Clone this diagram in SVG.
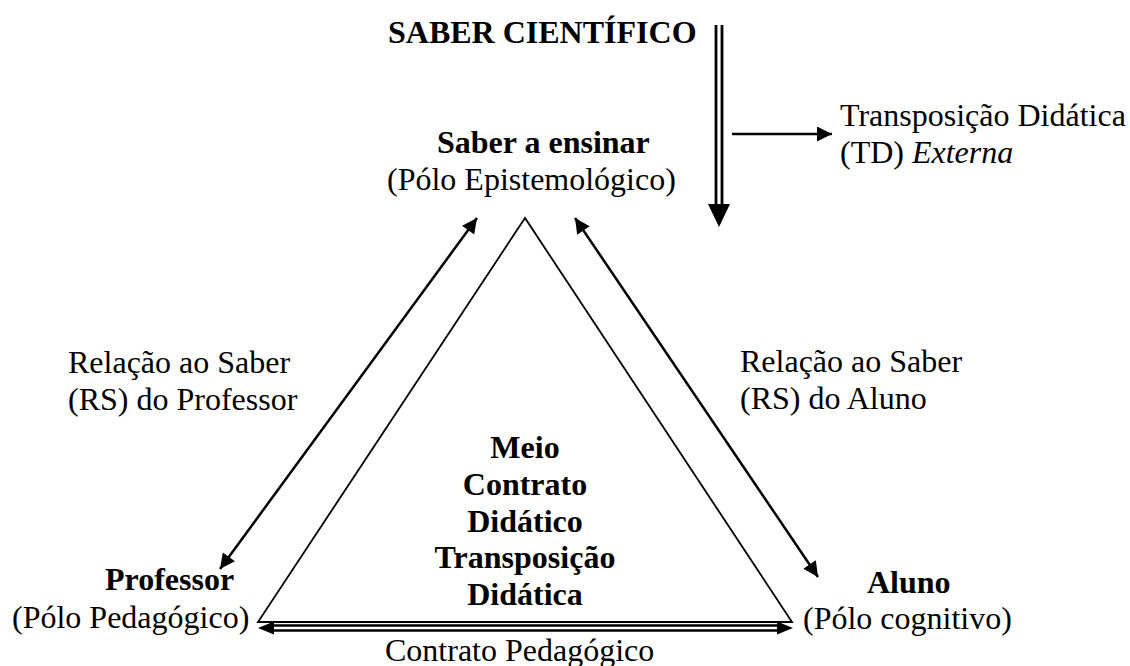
<svg xmlns="http://www.w3.org/2000/svg" width="1130" height="666" viewBox="0 0 1130 666">
<style>
text{font-family:"Liberation Serif","Times New Roman",serif;font-size:32px;fill:#000}
.b{font-weight:bold}
.c{text-anchor:middle}
.ln{stroke:#000;fill:none}
.ar{stroke:#000;stroke-width:2.5;fill:none}
.hd{fill:#000;stroke:none}
</style>
<defs>
<marker id="ah" viewBox="0 0 10 10" refX="10" refY="5" markerWidth="6.5" markerHeight="6" markerUnits="strokeWidth" orient="auto-start-reverse">
<path d="M0,0 L10,5 L0,10 Z" fill="#000"/>
</marker>
</defs>
<rect width="1130" height="666" fill="#fff"/>
<g id="connectors">
<polygon id="triangle" class="ln" stroke-width="1.8" points="525,218 258,622 792,622"/>
<line class="ar" x1="477" y1="218" x2="220" y2="569" marker-start="url(#ah)" marker-end="url(#ah)"/>
<line class="ar" x1="575" y1="218" x2="818" y2="577" marker-start="url(#ah)" marker-end="url(#ah)"/>
<line class="ar" x1="732" y1="134" x2="832" y2="134" marker-end="url(#ah)"/>
<g id="double-down">
<line class="ln" stroke-width="2.8" x1="716" y1="25" x2="716" y2="206"/>
<line class="ln" stroke-width="2.8" x1="722" y1="25" x2="722" y2="206"/>
<path class="hd" d="M708,204 L730,204 L719,227 Z"/>
</g>
<g id="double-horizontal">
<line class="ln" stroke-width="2.3" x1="268" y1="625.5" x2="783" y2="625.5"/>
<line class="ln" stroke-width="2.3" x1="268" y1="630.5" x2="783" y2="630.5"/>
<path class="hd" d="M258,628 L274,621.5 L274,634.5 Z"/>
<path class="hd" d="M793,628 L777,621.5 L777,634.5 Z"/>
</g>
</g>
<g id="saber-cientifico"><text class="b" x="388" y="43">SABER CIENTÍFICO</text></g>
<g id="saber-ensinar">
<text class="b" x="437" y="153">Saber a ensinar</text>
<text x="387" y="190">(Pólo Epistemológico)</text>
</g>
<g id="td-externa">
<text x="840" y="126">Transposição Didática</text>
<text x="840" y="163">(TD) <tspan font-style="italic">Externa</tspan></text>
</g>
<g id="rs-professor">
<text x="68" y="373">Relação ao Saber</text>
<text x="68" y="410">(RS) do Professor</text>
</g>
<g id="rs-aluno">
<text x="740" y="372">Relação ao Saber</text>
<text x="740" y="409">(RS) do Aluno</text>
</g>
<g id="professor">
<text class="b" x="105" y="590">Professor</text>
<text x="12" y="628">(Pólo Pedagógico)</text>
</g>
<g id="aluno">
<text class="b" x="867" y="593">Aluno</text>
<text x="803" y="629">(Pólo cognitivo)</text>
</g>
<g id="meio">
<text class="b c" x="525" y="458">Meio</text>
<text class="b c" x="525" y="495">Contrato</text>
<text class="b c" x="525" y="532">Didático</text>
<text class="b c" x="525" y="568">Transposição</text>
<text class="b c" x="525" y="605">Didática</text>
</g>
<g id="contrato-pedagogico"><text x="385" y="661">Contrato Pedagógico</text></g>
</svg>
